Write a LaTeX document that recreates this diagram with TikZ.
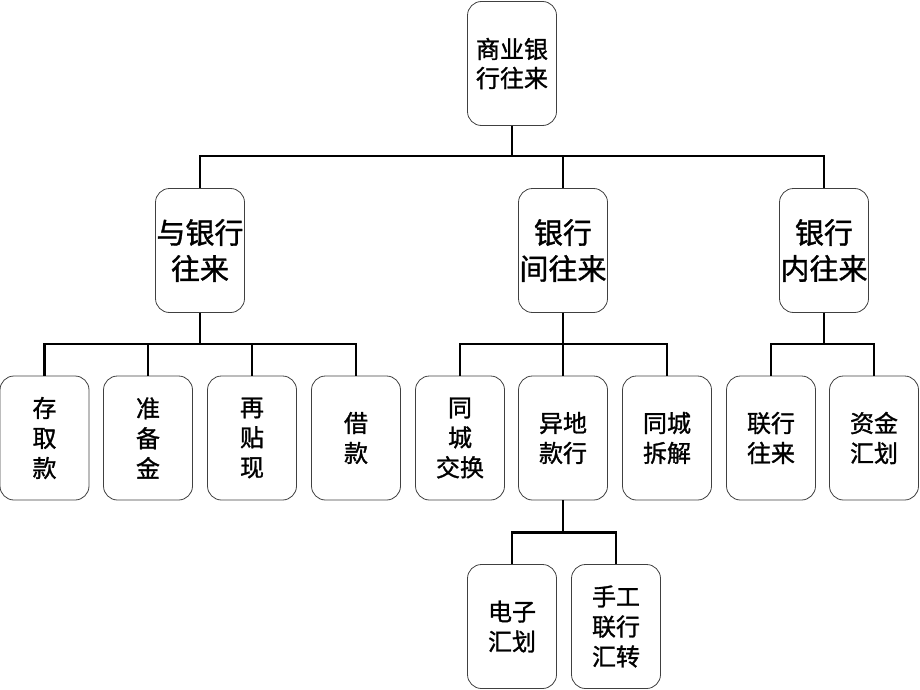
\documentclass[tikz,border=0pt]{standalone}
\usepackage{fontspec}
\newfontfamily\cjk[FakeBold=1.2]{Noto Sans CJK SC}
\usepackage{tikz}
\usetikzlibrary{arrows}

\begin{document}
\begin{tikzpicture}[x=1pt,y=-1pt]
\tikzset{Box/.style={draw=black!75, line width=0.8pt, rounded corners=14pt, align=center,
    inner sep=0pt, minimum width=89pt, text width=89pt, minimum height=124pt, font=\cjk},
  Top/.style={Box, font=\cjk\fontsize{24}{29}\selectfont},
  Mid/.style={Box, font=\cjk\fontsize{29}{36}\selectfont},
  Low/.style={Box, font=\cjk\fontsize{24}{30}\selectfont},
  EdgeStyle/.style={line width=2.8pt, line join=miter}}
\useasboundingbox (0,0) rectangle (920,690);
\node[Top] (s) at (512,63.5) {商业银\\行往来};
\node[Mid] (l) at (200,250.5) {与银行\\往来};
\node[Mid] (m) at (563,250.5) {银行\\间往来};
\node[Mid] (r) at (824,250.5) {银行\\内往来};
\node[Low] (l1) at (44.5,438) {存\\取\\款};
\node[Low] (l2) at (148,438) {准\\备\\金};
\node[Low] (l3) at (252,438) {再\\贴\\现};
\node[Low] (l4) at (356,438) {借\\款};
\node[Low] (m1) at (460,438) {同\\城\\交换};
\node[Low] (m2) at (563,438) {异地\\款行};
\node[Low] (m3) at (667,438) {同城\\拆解};
\node[Low] (r1) at (771,438) {联行\\往来};
\node[Low] (r2) at (874,438) {资金\\汇划};
\node[Low] (m21) at (512,626.5) {电子\\汇划};
\node[Low] (m22) at (616,626.5) {手工\\联行\\汇转};
\tikzset{EdgeStyle/.append style={black}}
\foreach \a in {l,m,r}
  \draw[EdgeStyle] (s.south) -- ++(0,30) -| (\a.north);
\foreach \a in {l1,l2,l3,l4}
  \draw[EdgeStyle] (l.south) -- ++(0,31) -| (\a.north);
\foreach \a in {m1,m2,m3}
  \draw[EdgeStyle] (m.south) -- ++(0,31) -| (\a.north);
\foreach \a in {r1,r2}
  \draw[EdgeStyle] (r.south) -- ++(0,31) -| (\a.north);
\foreach \a in {m21,m22}
  \draw[EdgeStyle] (m2.south) -- ++(0,32) -| (\a.north);

\end{tikzpicture}
\end{document}
